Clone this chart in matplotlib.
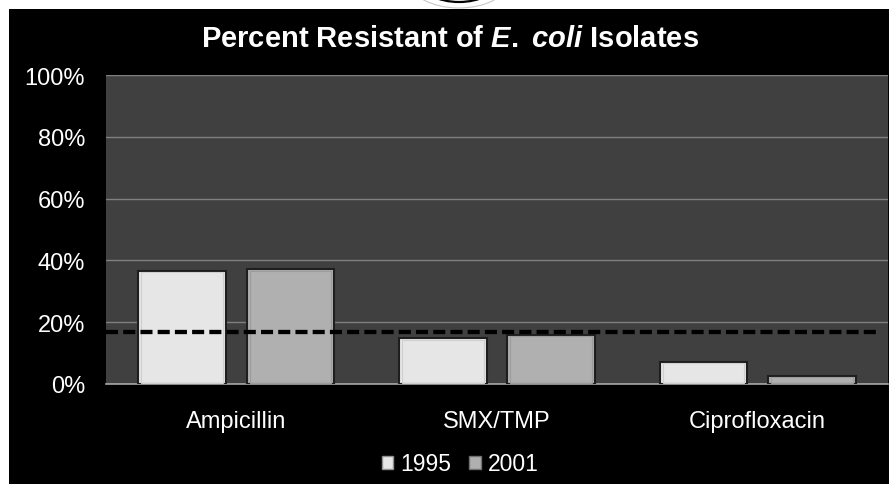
import numpy as np
import matplotlib
matplotlib.use("Agg")
import matplotlib.pyplot as plt
from matplotlib.patches import Rectangle, Circle, Patch

plt.rcParams['font.family'] = ['Liberation Sans', 'DejaVu Sans']
plt.rcParams['mathtext.fontset'] = 'custom'
plt.rcParams['mathtext.it'] = 'Liberation Sans:style=italic:weight=bold'
plt.rcParams['mathtext.rm'] = 'Liberation Sans:weight=bold'

# data
drugs = ['Ampicillin', 'SMX/TMP', 'Ciprofloxacin']
years = ['1995', '2001']
pct_1995 = [36.7, 14.8, 7.2]
pct_2001 = [37.2, 16.0, 2.6]
threshold = 16.8
yticks = [0, 20, 40, 60, 80, 100]

W, H = 889, 485
fig = plt.figure(figsize=(W / 100, H / 100), dpi=100, facecolor='white')

# black slide background (white strip on top and left)
fig.patches.append(Rectangle((9 / W, 0), 1, 1 - 9.5 / H, transform=fig.transFigure,
                             facecolor='black', edgecolor='none', zorder=-2))
# bit of the logo cut off at the top
for r, c, lw in [(27, '#c8c8c8', 0.8), (21, 'black', 1.6), (17, 'black', 1.6)]:
    fig.patches.append(Circle((459 / W, 1 + 18 / H), r / H, transform=fig.transFigure,
                              facecolor='none', edgecolor=c, linewidth=lw, zorder=-3))

ax = fig.add_axes([106 / W, 100 / H, 782 / W, 309 / H])
ax.set_zorder(2)
ax.set_facecolor('#404040')

x = np.arange(len(drugs))
bw = 0.337
off = 0.208
ax.bar(x - off, pct_1995, bw, color='#e6e6e6', edgecolor='#1e1e1e', linewidth=1.5,
       label=years[0], zorder=3)
ax.bar(x + off, pct_2001, bw, color='#b0b0b0', edgecolor='#1e1e1e', linewidth=1.5,
       label=years[1], zorder=3)
# slight bevel inside the bars
px, py = 3 / 782, 100 / 309
ax.bar(x - off, np.array(pct_1995) - 3 * py, bw - 6 * px, bottom=1.5 * py,
       color='none', edgecolor='#cfcfcf', linewidth=0.8, zorder=3.5)
ax.bar(x + off, np.array(pct_2001) - 3 * py, bw - 6 * px, bottom=1.5 * py,
       color='none', edgecolor='#9c9c9c', linewidth=0.8, zorder=3.5)

ax.axhline(threshold, xmin=0, xmax=0.986, color='black', linewidth=3.1,
           dashes=(2.8, 1.2), zorder=4)

ax.set_xlim(-0.5, 2.5)
ax.set_ylim(0, 100)
ax.set_yticks(yticks)
ax.set_yticklabels([f'{v}%' for v in yticks])
ax.set_xticks(x)
ax.set_xticklabels(drugs)
ax.yaxis.grid(True, color='#808080', linewidth=1)
ax.set_axisbelow(True)
ax.tick_params(axis='both', length=0, colors='white', labelsize=17)
ax.tick_params(axis='y', pad=15)
ax.tick_params(axis='x', pad=19)
for s in ['top', 'right', 'left']:
    ax.spines[s].set_visible(False)
ax.spines['bottom'].set_color('#a8a8a8')
ax.spines['bottom'].set_linewidth(1.2)

fig.text(450 / W, 1 - 39 / H, r'Percent Resistant of $\mathit{E.}$ $\mathit{coli}$ Isolates',
         color='white', fontsize=21, fontweight='bold', ha='center', va='center')

handles = [Patch(facecolor='#e6e6e6', edgecolor='#909090'),
           Patch(facecolor='#b0b0b0', edgecolor='#707070')]
fig.legend(handles, years, loc='center', bbox_to_anchor=(460 / W, 20 / H), ncol=2,
           frameon=False, fontsize=16.5, labelcolor='white', handlelength=0.5,
           handleheight=0.5, handletextpad=0.3, columnspacing=0.8)

fig.savefig('out.png', dpi=100, facecolor=fig.get_facecolor())
